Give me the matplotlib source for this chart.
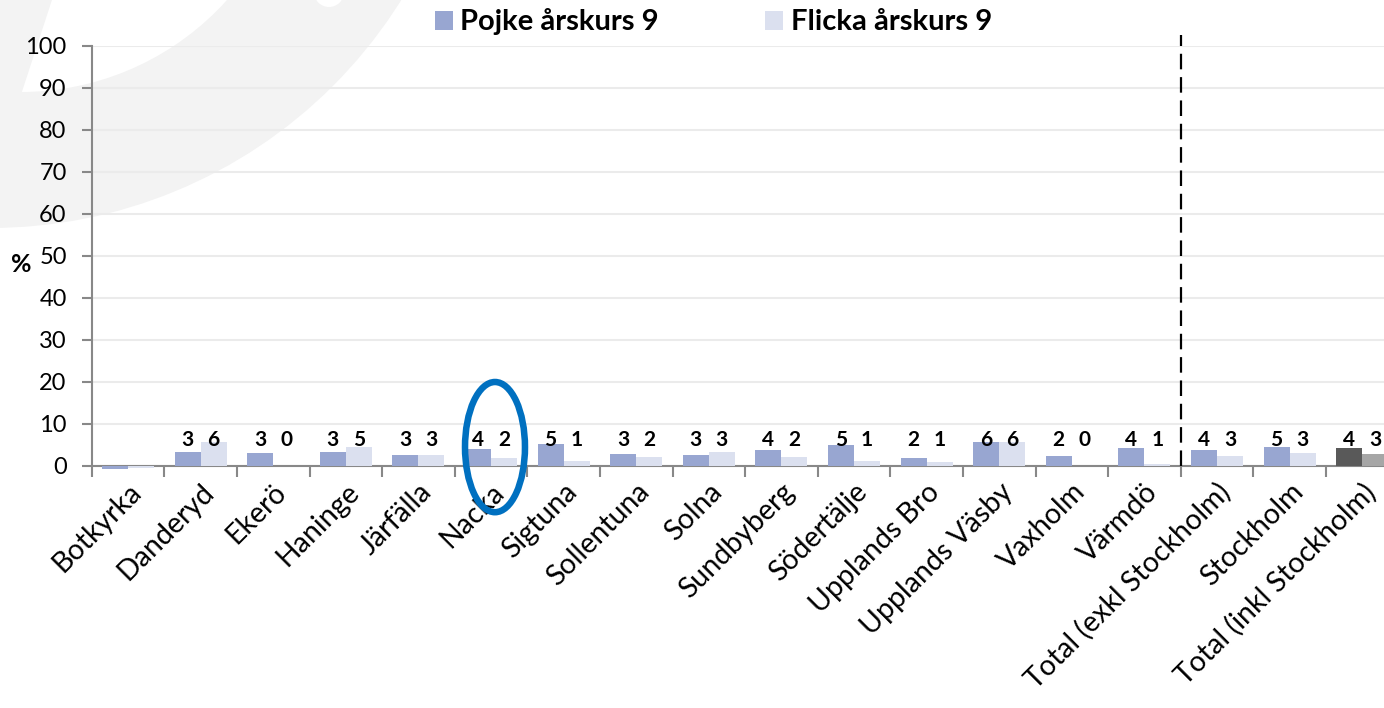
import numpy as np
import matplotlib
matplotlib.use("Agg")
import matplotlib.pyplot as plt
from matplotlib.patches import Circle, Polygon, Ellipse, Patch

POJKE = "#98a6d1"
FLICKA = "#dbe0ef"
POJKE_TOT = "#595959"
FLICKA_TOT = "#a6a6a6"
WMARK = "#f3f3f3"
AXCOL = "#888888"

categories = ["Botkyrka", "Danderyd", "Ekerö", "Haninge", "Järfälla", "Nacka",
              "Sigtuna", "Sollentuna", "Solna", "Sundbyberg", "Södertälje",
              "Upplands Bro", "Upplands Väsby", "Vaxholm", "Värmdö",
              "Total (exkl Stockholm)", "Stockholm", "Total (inkl Stockholm)"]
pojke = [-0.6, 3.4, 3.2, 3.3, 2.7, 4.0, 5.2, 2.8, 2.6, 3.8, 4.9, 1.9, 5.6, 2.3,
         4.2, 3.7, 4.5, 4.2]
flicka = [-0.4, 5.8, 0.0, 4.6, 2.6, 2.0, 1.2, 2.2, 3.3, 2.1, 1.2, 0.9, 5.7, 0.0,
          0.5, 2.5, 3.1, 2.8]
pojke_lbl = ["", "3", "3", "3", "3", "4", "5", "3", "3", "4", "5", "2", "6", "2",
             "4", "4", "5", "4"]
flicka_lbl = ["", "6", "0", "5", "3", "2", "1", "2", "3", "2", "1", "1", "6", "0",
              "1", "3", "3", "3"]

plt.rcParams["font.family"] = ["Lato", "DejaVu Sans"]

fig = plt.figure(figsize=(13.84, 7.08), dpi=100, facecolor="white")

# background watermark swoosh (pixel coords)
bg = fig.add_axes([0, 0, 1, 1], zorder=-1)
bg.set_xlim(0, 1384)
bg.set_ylim(708, 0)
bg.axis("off")
bg.add_patch(Circle((-10, -257), 485, facecolor=WMARK, edgecolor="none"))
lens = Circle((20.6, -185.5), 277.5, facecolor="white", edgecolor="none")
bg.add_patch(lens)
clip = Polygon([(67, -46), (16, 110), (600, 110), (600, -46)], closed=True,
               facecolor="none", edgecolor="none")
bg.add_patch(clip)
lens.set_clip_path(clip)
bg.add_patch(Circle((329, -8), 15, facecolor="white", edgecolor="none"))

ax = fig.add_axes([91.7 / 1384, 242 / 708, 1306.8 / 1384, 420 / 708])
ax.set_facecolor("none")

x = np.arange(len(categories))
w = 0.358
pc = [POJKE] * (len(x) - 1) + [POJKE_TOT]
fc = [FLICKA] * (len(x) - 1) + [FLICKA_TOT]
ax.bar(x - w / 2, pojke, w, color=pc, clip_on=False, zorder=3)
ax.bar(x + w / 2, flicka, w, color=fc, clip_on=False, zorder=3)

for i in range(len(x)):
    ax.text(x[i] - w / 2, 6.3, pojke_lbl[i], ha="center", va="center",
            fontsize=15, fontweight="bold", color="black", zorder=4)
    ax.text(x[i] + w / 2, 6.3, flicka_lbl[i], ha="center", va="center",
            fontsize=15, fontweight="bold", color="black", zorder=4)

ax.set_xlim(-0.5, len(x) - 0.5)
ax.set_ylim(0, 100)
ax.set_yticks(np.arange(0, 101, 10))
ax.yaxis.grid(True, color="#ebebeb", lw=1.5, zorder=0)
ax.set_axisbelow(True)

ax.set_xticks(np.arange(-0.5, len(x), 1.0))
ax.set_xticklabels([])
ax.set_xticks(x, minor=True)
ax.set_xticklabels(categories, minor=True, rotation=45, ha="right",
                   va="top", rotation_mode="anchor", fontsize=20.5)
ax.tick_params(axis="x", which="major", length=8, width=1.5, color=AXCOL)
ax.tick_params(axis="x", which="minor", length=0, pad=9)
ax.tick_params(axis="y", length=7, width=1.5, color=AXCOL, labelsize=17, pad=11)

for s in ["top", "right"]:
    ax.spines[s].set_visible(False)
for s in ["left", "bottom"]:
    ax.spines[s].set_color(AXCOL)
    ax.spines[s].set_linewidth(1.5)

ax.set_ylabel("%", rotation=0, fontsize=18, fontweight="bold",
              va="center", ha="center")
ax.yaxis.set_label_coords(-0.054, 0.479)

# divider between municipalities and totals
ax.plot([14.5, 14.5], [0, 102.6], color="black", lw=1.6,
        linestyle=(0, (7, 3.5)), clip_on=False, zorder=5)

# highlight ring around Nacka
ax.add_patch(Ellipse((5.055, 4.5), 0.826, 31.0, facecolor="none",
                     edgecolor="#0070c0", lw=4.7, clip_on=False, zorder=6))

handles = [Patch(facecolor=POJKE), Patch(facecolor=FLICKA)]
fig.legend(handles, ["Pojke årskurs 9", "Flicka årskurs 9"], ncol=2,
           loc="center", bbox_to_anchor=(0.5155, 0.969), frameon=False,
           prop={"weight": "bold", "size": 21}, handlelength=0.62,
           handleheight=0.62, handletextpad=0.25, columnspacing=3.65)

fig.savefig("out.png", dpi=100, facecolor="white")
